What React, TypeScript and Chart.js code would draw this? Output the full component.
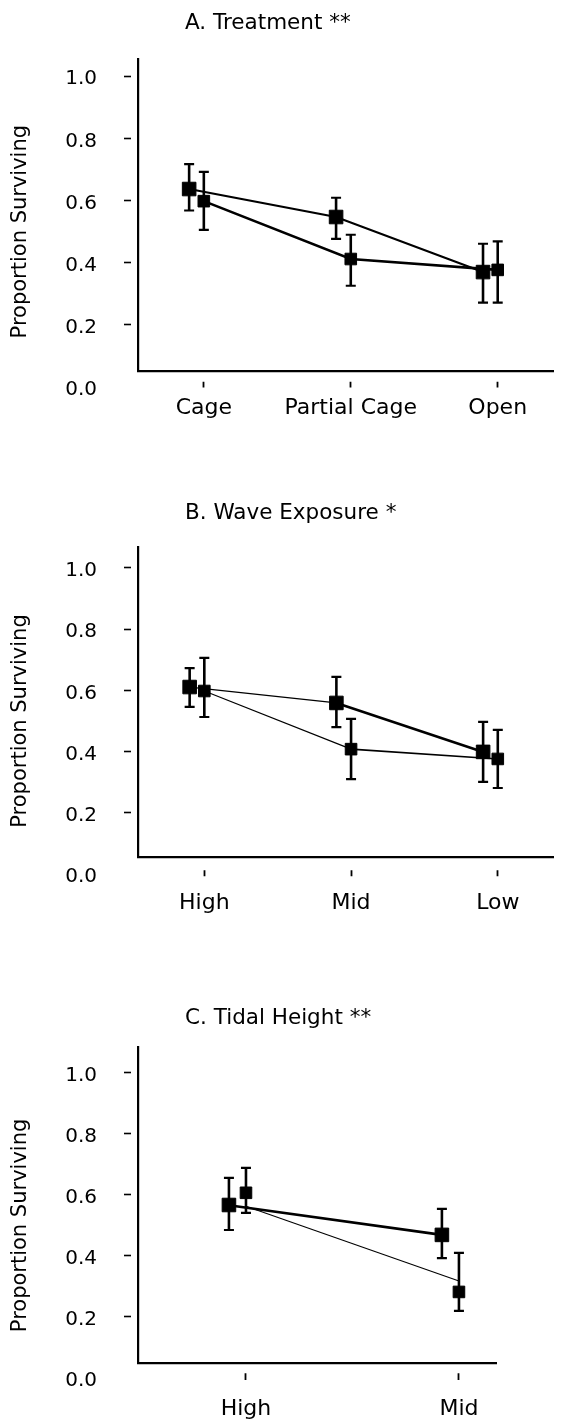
import React, { useEffect, useRef } from "react";
import { Chart, registerables } from "chart.js";

Chart.register(...registerables);

// ---------- shared ----------
const yTickValues = [0, 0.2, 0.4, 0.6, 0.8, 1.0];
const yAxisTitle = "Proportion Surviving";

// ---------- Panel A: Treatment ----------
const treatmentTitle = "A. Treatment **";
const treatmentCats = ["Cage", "Partial Cage", "Open"];
const treatmentS1 = [0.637, 0.547, 0.37];
const treatmentS1Lo = [0.568, 0.477, 0.272];
const treatmentS1Hi = [0.717, 0.609, 0.461];
const treatmentS2 = [0.598, 0.412, 0.377];
const treatmentS2Lo = [0.506, 0.326, 0.272];
const treatmentS2Hi = [0.692, 0.49, 0.469];

// ---------- Panel B: Wave Exposure ----------
const waveTitle = "B. Wave Exposure *";
const waveCats = ["High", "Mid", "Low"];
const waveS1 = [0.611, 0.559, 0.399];
const waveS1Lo = [0.546, 0.48, 0.301];
const waveS1Hi = [0.673, 0.644, 0.497];
const waveS2 = [0.598, 0.408, 0.376];
const waveS2Lo = [0.513, 0.31, 0.281];
const waveS2Hi = [0.706, 0.507, 0.471];

// ---------- Panel C: Tidal Height ----------
const tideTitle = "C. Tidal Height **";
const tideCats = ["High", "Mid"];
const tideS1 = [0.567, 0.469];
const tideS1Lo = [0.485, 0.393];
const tideS1Hi = [0.656, 0.554];
const tideS2 = [0.607, 0.282];
const tideS2Lo = [0.541, 0.22];
const tideS2Hi = [0.689, 0.41];
const tideLine1 = [0.566, 0.469];
const tideLine2 = [0.563, 0.318];

const FONT = '"DejaVu Sans", "Liberation Sans", Arial, sans-serif';

type PanelCfg = {
  title: string;
  titleY: number;
  cats: string[];
  s1: number[];
  s1Lo: number[];
  s1Hi: number[];
  s2: number[];
  s2Lo: number[];
  s2Hi: number[];
  line1: number[];
  line2: number[];
  line1Widths: number[];
  line2Widths: number[];
  off1: number;
  yMin: number;
  yMax: number;
  chartTop: number;
  xAxisHeight: number;
  padRight: number;
  xMin: number;
  xMax: number;
  xTickGap: number;
  xTickLen: number;
  xLabelPad: number;
};

const W = 564;
const H = 474;

const panels: PanelCfg[] = [
  {
    title: treatmentTitle,
    titleY: 23.5,
    cats: treatmentCats,
    s1: treatmentS1,
    s1Lo: treatmentS1Lo,
    s1Hi: treatmentS1Hi,
    s2: treatmentS2,
    s2Lo: treatmentS2Lo,
    s2Hi: treatmentS2Hi,
    line1: treatmentS1,
    line2: treatmentS2,
    line1Widths: [2.2, 2.2],
    line2Widths: [2.6, 2.6],
    off1: -0.1,
    yMin: 0.052,
    yMax: 1.055,
    chartTop: 59,
    xAxisHeight: H - 371,
    padRight: 0,
    xMin: -0.448,
    xMax: 2.379,
    xTickGap: 9.5,
    xTickLen: 6,
    xLabelPad: 7.4,
  },
  {
    title: waveTitle,
    titleY: 39.5,
    cats: waveCats,
    s1: waveS1,
    s1Lo: waveS1Lo,
    s1Hi: waveS1Hi,
    s2: waveS2,
    s2Lo: waveS2Lo,
    s2Hi: waveS2Hi,
    line1: waveS1,
    line2: waveS2,
    line1Widths: [1.2, 2.6],
    line2Widths: [1.2, 1.6],
    off1: -0.1,
    yMin: 0.0546,
    yMax: 1.0686,
    chartTop: 73,
    xAxisHeight: H - 383.3,
    padRight: 0,
    xMin: -0.452,
    xMax: 2.379,
    xTickGap: 12,
    xTickLen: 6,
    xLabelPad: 13.8,
  },
  {
    title: tideTitle,
    titleY: 70.5,
    cats: tideCats,
    s1: tideS1,
    s1Lo: tideS1Lo,
    s1Hi: tideS1Hi,
    s2: tideS2,
    s2Lo: tideS2Lo,
    s2Hi: tideS2Hi,
    line1: tideLine1,
    line2: tideLine2,
    line1Widths: [2.6],
    line2Widths: [1.1],
    off1: -0.08,
    yMin: 0.049,
    yMax: 1.085,
    chartTop: 99,
    xAxisHeight: H - 415,
    padRight: 68,
    xMin: -0.507,
    xMax: 1.174,
    xTickGap: 9,
    xTickLen: 7,
    xLabelPad: 15.8,
  },
];

const errorBarPlugin = {
  id: "errorBars",
  afterDatasetsDraw(chart: any) {
    const { ctx } = chart;
    const xs = chart.scales.x;
    const ys = chart.scales.y;
    chart.data.datasets.forEach((ds: any) => {
      if (!ds.errLo) return;
      ds.data.forEach((pt: any, i: number) => {
        const x = xs.getPixelForValue(pt.x);
        const yLo = ys.getPixelForValue(ds.errLo[i]);
        const yHi = ys.getPixelForValue(ds.errHi[i]);
        ctx.save();
        ctx.strokeStyle = "#000";
        ctx.lineWidth = 2.6;
        ctx.beginPath();
        ctx.moveTo(x, yLo);
        ctx.lineTo(x, yHi);
        ctx.stroke();
        ctx.lineWidth = 2.2;
        ctx.beginPath();
        ctx.moveTo(x - 5, yLo);
        ctx.lineTo(x + 5, yLo);
        ctx.moveTo(x - 5, yHi);
        ctx.lineTo(x + 5, yHi);
        ctx.stroke();
        ctx.restore();
      });
    });
  },
};

const panelTextPlugin = {
  id: "panelText",
  afterDraw(chart: any, _args: any, opts: any) {
    const { ctx } = chart;
    const ys = chart.scales.y;
    ctx.save();
    ctx.fillStyle = "#000";
    ctx.font = `21.5px ${FONT}`;
    ctx.textAlign = "left";
    ctx.textBaseline = "middle";
    ctx.fillText(opts.title, 185, opts.titleY);
    ctx.translate(21, ys.getPixelForValue(0.5));
    ctx.rotate(-Math.PI / 2);
    ctx.textAlign = "center";
    ctx.font = `21px ${FONT}`;
    ctx.fillText(yAxisTitle, 0, 0);
    ctx.restore();
  },
};

// per-tick colours for the y tick marks: no mark under the 0.0 label
const yTickMarkColors = yTickValues.map((v) => (v === 0 ? "rgba(0,0,0,0)" : "#000"));

function Panel({ cfg, top }: { cfg: PanelCfg; top: number }) {
  const ref = useRef<HTMLCanvasElement>(null);
  useEffect(() => {
    const canvas = ref.current;
    if (!canvas) return;
    const markers1 = cfg.s1.map((v, i) => ({ x: i + cfg.off1, y: v }));
    const markers2 = cfg.s2.map((v, i) => ({ x: i, y: v }));
    const lines1 = cfg.line1.map((v, i) => ({ x: i + cfg.off1, y: v }));
    const lines2 = cfg.line2.map((v, i) => ({ x: i, y: v }));
    const chart = new Chart(canvas, {
      type: "line",
      data: {
        datasets: [
          {
            data: markers1,
            showLine: false,
            pointStyle: "rect",
            pointRadius: 9.6,
            pointHoverRadius: 9.6,
            pointBackgroundColor: "#000",
            pointBorderColor: "#000",
            pointBorderWidth: 1,
            errLo: cfg.s1Lo,
            errHi: cfg.s1Hi,
          } as any,
          {
            data: markers2,
            showLine: false,
            pointStyle: "rect",
            pointRadius: 8.2,
            pointHoverRadius: 8.2,
            pointBackgroundColor: "#000",
            pointBorderColor: "#000",
            pointBorderWidth: 1,
            errLo: cfg.s2Lo,
            errHi: cfg.s2Hi,
          } as any,
          {
            data: lines1,
            borderColor: "#000",
            borderWidth: cfg.line1Widths[0],
            pointRadius: 0,
            pointHoverRadius: 0,
            tension: 0,
            segment: {
              borderWidth: (c: any) => cfg.line1Widths[c.p0DataIndex],
            },
          } as any,
          {
            data: lines2,
            borderColor: "#000",
            borderWidth: cfg.line2Widths[0],
            pointRadius: 0,
            pointHoverRadius: 0,
            tension: 0,
            segment: {
              borderWidth: (c: any) => cfg.line2Widths[c.p0DataIndex],
            },
          } as any,
        ],
      },
      options: {
        responsive: false,
        animation: false,
        events: [],
        layout: {
          padding: { top: cfg.chartTop, left: 0, right: cfg.padRight, bottom: 0 },
        },
        scales: {
          x: {
            type: "linear",
            min: cfg.xMin,
            max: cfg.xMax,
            afterBuildTicks: (scale: any) => {
              scale.ticks = cfg.cats.map((_, i) => ({ value: i }));
            },
            afterFit: (scale: any) => {
              scale.height = cfg.xAxisHeight;
            },
            border: { display: true, color: "#000", width: 2.2 },
            grid: {
              drawOnChartArea: false,
              drawTicks: true,
              tickLength: cfg.xTickGap + cfg.xTickLen + 1,
              tickColor: "#000",
              tickWidth: 1.8,
              tickBorderDash: [0, cfg.xTickGap, cfg.xTickLen, 60],
            } as any,
            ticks: {
              autoSkip: false,
              maxRotation: 0,
              padding: cfg.xLabelPad,
              color: "#000",
              font: { family: FONT, size: 22 },
              callback: (v: any) => cfg.cats[Math.round(Number(v))] ?? "",
            },
          },
          y: {
            type: "linear",
            min: cfg.yMin,
            max: cfg.yMax,
            afterBuildTicks: (scale: any) => {
              scale.ticks = yTickValues.map((v) => ({ value: v }));
            },
            afterFit: (scale: any) => {
              scale.width = 138;
            },
            border: { display: true, color: "#000", width: 2.2 },
            grid: {
              drawOnChartArea: false,
              drawTicks: true,
              tickLength: 14,
              tickColor: yTickMarkColors,
              tickWidth: 1.6,
              tickBorderDash: [7, 60],
            } as any,
            ticks: {
              padding: 27,
              labelOffset: 3,
              color: "#000",
              font: { family: FONT, size: 20 },
              callback: (v: any) => Number(v).toFixed(1),
            },
          },
        },
        plugins: {
          legend: { display: false },
          tooltip: { enabled: false },
          title: { display: false },
          panelText: { title: cfg.title, titleY: cfg.titleY },
        } as any,
      },
      plugins: [errorBarPlugin, panelTextPlugin],
    });
    return () => chart.destroy();
  }, [cfg]);
  return (
    <div style={{ position: "absolute", left: 0, top, width: W, height: H }}>
      <canvas ref={ref} width={W} height={H} style={{ width: W, height: H, display: "block" }} />
    </div>
  );
}

export default function App() {
  return (
    <div style={{ position: "absolute", left: 0, top: 0, width: W, height: 1422, background: "#fff" }}>
      {panels.map((p, i) => (
        <Panel key={i} cfg={p} top={i * H} />
      ))}
    </div>
  );
}
